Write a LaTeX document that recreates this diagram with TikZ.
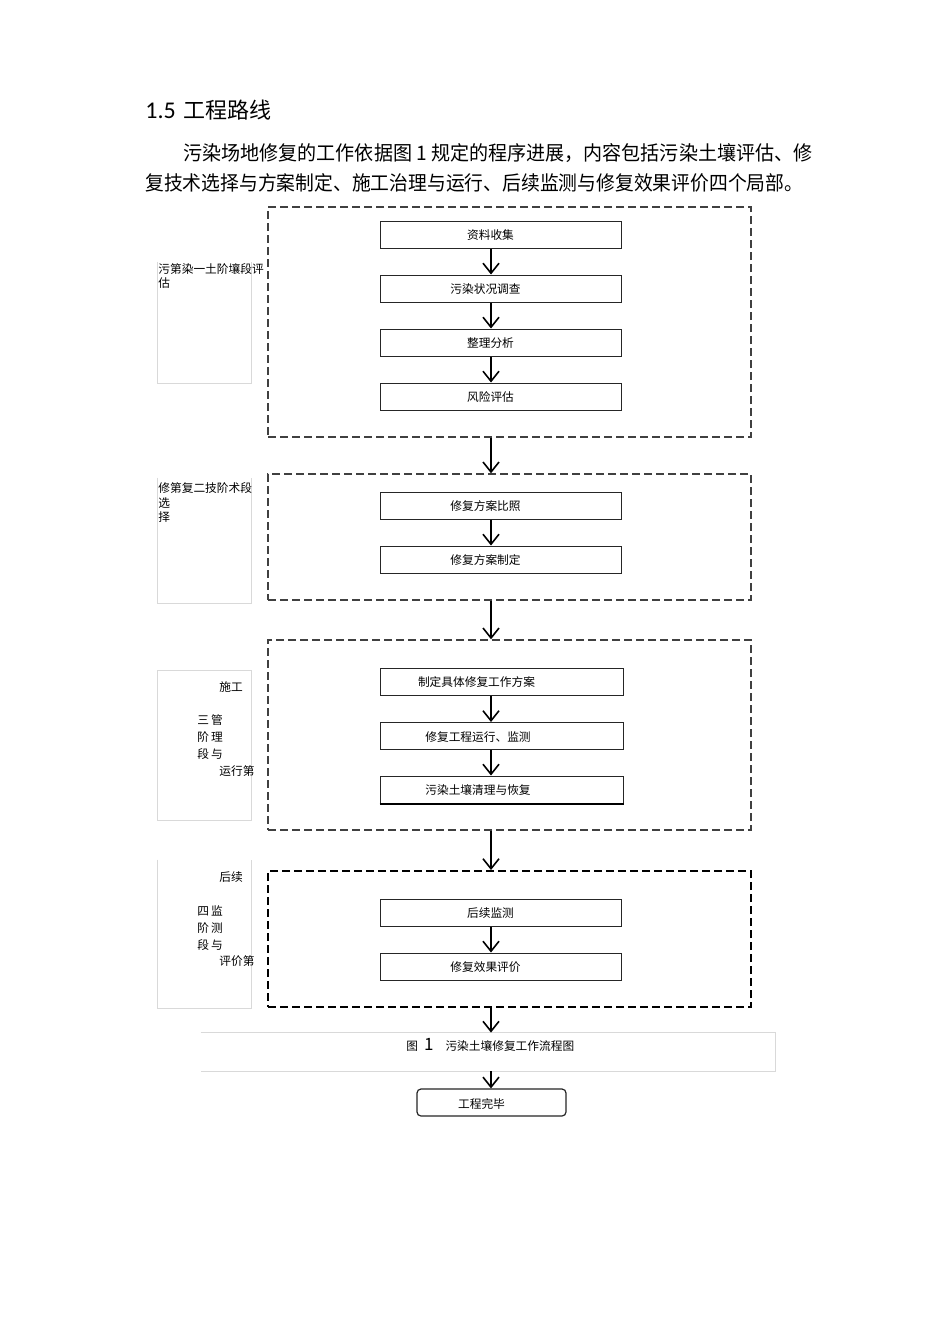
\documentclass[tikz,border=0pt]{standalone}
\usepackage{graphicx}
\usepackage{fontspec}
\setmainfont{Noto Sans CJK SC}
\newfontfamily\latinf{Carlito}
\usetikzlibrary{arrows.meta}

\begin{document}
\begin{tikzpicture}[x=0.5pt,y=-0.5pt,
  boxfont/.style={font=\fontsize{5.85}{7}\selectfont},
  stepbox/.style={draw=black!85, line width=0.5pt, minimum width=120.5pt, minimum height=13.5pt, inner sep=0pt},
  widebox/.style={stepbox, minimum width=121.5pt},
  lbl/.style={boxfont, inner sep=0pt, yshift=-0.5pt},
  stagebox/.style={draw=black!75, line width=0.7pt, dash pattern=on 4pt off 2pt, minimum width=241.5pt, inner sep=0pt},
  sidebox/.style={minimum width=46.5pt, inner sep=0pt},
  sideline/.style={draw=black!15, line width=0.5pt},
  sidetext/.style={boxfont, inner sep=0pt, anchor=west},
  flow/.style={line width=0.8pt, -{Straight Barb[length=5pt,width=8pt,line width=0.8pt]}},
]
\useasboundingbox[fill=white] (0,0) rectangle (950,1344);

% heading and paragraph
\node[anchor=west, inner sep=0pt, font=\fontsize{11}{13}\selectfont] (head) at (145,110)
  {{\latinf\fontsize{12}{13}\selectfont 1.5}\hspace{4pt}工程路线};
\node[anchor=west, inner sep=0pt, font=\fontsize{10}{12}\selectfont] (par1) at (183,153)
  {\resizebox{314.5pt}{\height}{污染场地修复的工作依据图 1 规定的程序进展，内容包括污染土壤评估、修}};
\node[anchor=west, inner sep=0pt, font=\fontsize{10}{12}\selectfont] (par2) at (145,183)
  {\resizebox{329pt}{\height}{复技术选择与方案制定、施工治理与运行、后续监测与修复效果评价四个局部。}};

\coordinate (ax) at (491,0);

% stage boxes
\node[stagebox, minimum height=115pt] (st1) at (509.5,322) {};
\node[stagebox, minimum height=63pt] (st2) at (509.5,537) {};
\node[stagebox, minimum height=95pt] (st3) at (509.5,735) {};
\node[stagebox, draw=black, line width=1pt, minimum height=68pt] (st4) at (509.5,939) {};

% stage 1
\node[stepbox, label={[lbl,xshift=-5pt]center:资料收集}] (b11) at (500.5,234.5) {};
\node[stepbox, label={[lbl,xshift=-7.5pt]center:污染状况调查}] (b12) at (500.5,288.5) {};
\node[stepbox, label={[lbl,xshift=-5pt]center:整理分析}] (b13) at (500.5,342.5) {};
\node[stepbox, label={[lbl,xshift=-5pt]center:风险评估}] (b14) at (500.5,396.5) {};
% stage 2
\node[stepbox, label={[lbl,xshift=-7.5pt]center:修复方案比照}] (b21) at (500.5,505.5) {};
\node[stepbox, label={[lbl,xshift=-7.5pt]center:修复方案制定}] (b22) at (500.5,559.5) {};
% stage 3
\node[widebox, label={[lbl,xshift=-12.5pt]center:制定具体修复工作方案}] (b31) at (501.5,681.5) {};
\node[widebox, label={[lbl,xshift=-11.75pt]center:修复工程运行、监测}] (b32) at (501.5,736) {};
\node[widebox, label={[lbl,xshift=-11.75pt]center:污染土壤清理与恢复}] (b33) at (501.5,789.5) {};
\draw[line width=1pt] (b33.south west) -- (b33.south east);
% stage 4
\node[stepbox, label={[lbl,xshift=-5pt]center:后续监测}] (b41) at (500.5,912.5) {};
\node[stepbox, label={[lbl,xshift=-7.5pt]center:修复效果评价}] (b42) at (500.5,966.5) {};

% caption and end
\node[minimum width=287pt, minimum height=19pt, inner sep=0pt] (cap) at (488,1052) {};
\draw[black!15, line width=0.5pt] (cap.north west) -- (cap.north east) -- (cap.south east) -- (cap.south west);
\node[lbl, anchor=west] (captext) at (406,1044)
  {图\hspace{3pt}{\fontsize{8.5}{9}\selectfont 1}\hspace{6pt}污染土壤修复工作流程图};
\node[draw=black!85, line width=0.6pt, rounded corners=2pt, minimum width=74.5pt, minimum height=13.5pt, inner sep=0pt,
  label={[lbl,xshift=-5pt]center:工程完毕}] (end) at (491.5,1102.5) {};

% side label frames
\node[sidebox, minimum height=60.5pt] (s1) at (204.5,322.5) {};
\node[sidebox, minimum height=62.5pt] (s2) at (204.5,540.5) {};
\node[sidebox, minimum height=74.5pt] (s3) at (204.5,745.5) {};
\node[sidebox, minimum height=74pt] (s4) at (204.5,934) {};
\foreach \s in {s1,s2,s4}
  \draw[sideline] (\s.north west) -- (\s.south west) -- (\s.south east) -- (\s.north east);
\draw[sideline] (s3.north west) rectangle (s3.south east);

% side texts
\node[sidetext] (t11) at (158,269) {污第染一土阶壤段评};
\node[sidetext] (t12) at (158,283) {估};
\node[sidetext] (t21) at (158,488) {修第复二技阶术段};
\node[sidetext] (t22) at (158,503) {选};
\node[sidetext] (t23) at (158,517) {择};
\node[sidetext] (t31) at (219,687) {施工};
\node[sidetext] (t32) at (197,720) {三\hspace{1pt}管};
\node[sidetext] (t33) at (197,737) {阶\hspace{1pt}理};
\node[sidetext] (t34) at (197,754) {段\hspace{1pt}与};
\node[sidetext] (t35) at (219,771) {运行第};
\node[sidetext] (t41) at (219,877) {后续};
\node[sidetext] (t42) at (197,911) {四\hspace{1pt}监};
\node[sidetext] (t43) at (197,928) {阶\hspace{1pt}测};
\node[sidetext] (t44) at (197,945) {段\hspace{1pt}与};
\node[sidetext] (t45) at (219,961) {评价第};

% connectors
\foreach \a/\b in {b11/b12, b12/b13, b13/b14, b21/b22, b31/b32, b32/b33, b41/b42,
                   st1/st2, st2/st3, st3/st4, st4/cap, cap/end}
  \draw[flow] (\a.south -| ax) -- (\b.north -| ax);
\end{tikzpicture}
\end{document}
